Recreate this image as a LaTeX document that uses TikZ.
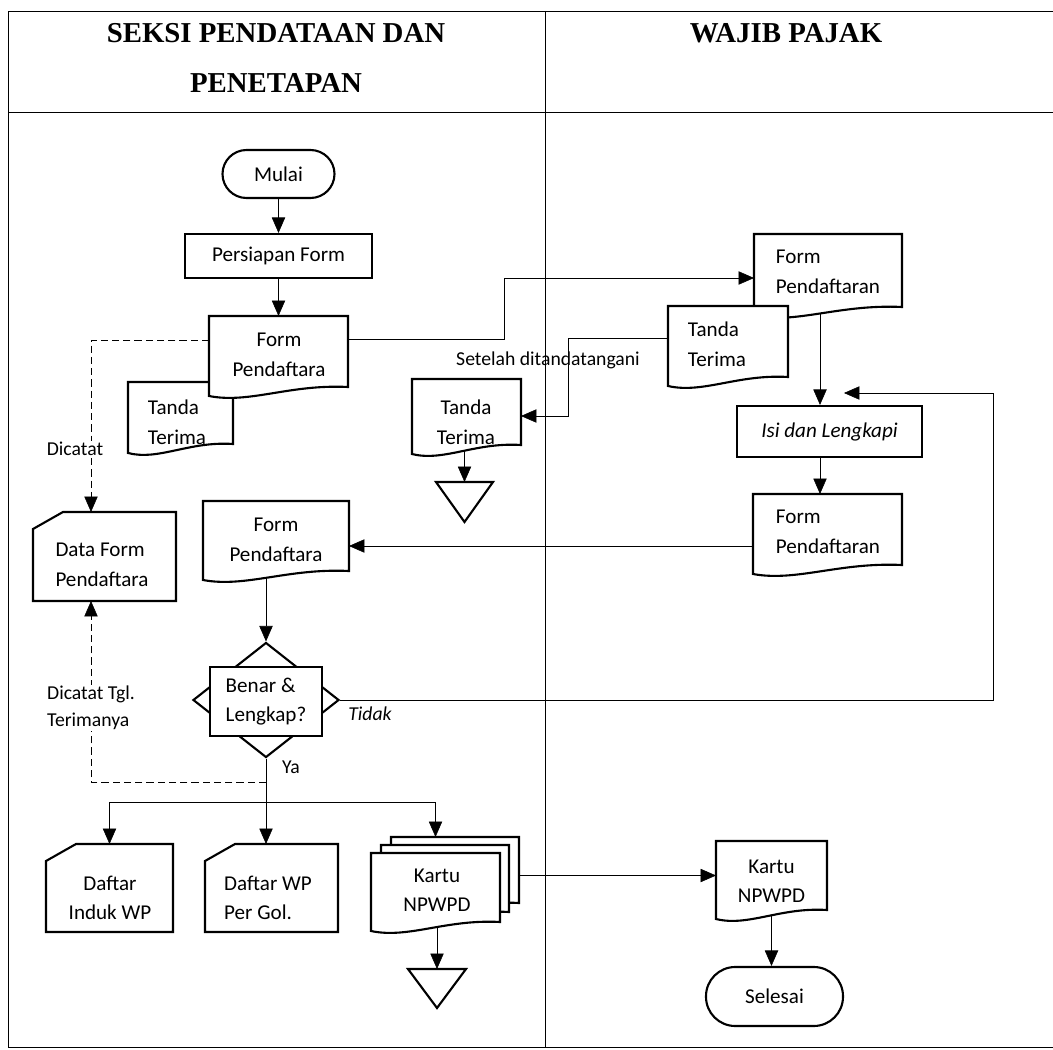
\documentclass[tikz,border=0pt]{standalone}
\usepackage{fontspec}
\setmainfont{Carlito}
\newfontfamily\headfont{Liberation Serif}
\usetikzlibrary{arrows.meta,shapes.geometric,backgrounds}

\tikzset{
    frame/.style 2 args={inner sep=0pt, outer sep=0pt, minimum width={(#1)*0.025cm}, minimum height={(#2)*0.025cm}},
    sz/.style 2 args={minimum width=#1*0.025cm, minimum height=#2*0.025cm},
    term/.style={draw, fill=white, inner sep=0pt, rounded corners=#1},
    proc/.style={draw, fill=white, inner sep=0pt},
    txt/.style={inner sep=0pt, align=center},
    small/.style={font=\fontsize{14}{19}\selectfont},
    head/.style={align=center, font=\headfont\bfseries\fontsize{20.5}{35.5}\selectfont},
    dashline/.style={dash pattern=on 5pt off 3pt},
}

% 文档符号：#1 名称，(#2,#3) 左上角，(#4,#5) 波浪线右端
\newcommand{\docsym}[5]{%
    \filldraw[fill=white] (#2,#3) -- (#4,#3) -- (#4,#5)
        .. controls ({#2+0.58*(#4-#2)},{#5-3}) and ({#2+0.29*(#4-#2)},{#5+17}) .. (#2,{#5+9}) -- cycle;
    \node[frame={#4-#2}{#5-#3}] (#1) at ({(#2+#4)/2},{(#3+#5)/2}) {};}
% 卡片符号（左上角切角）
\newcommand{\cardsym}[5]{%
    \filldraw[fill=white] ({#2+30},#3) -- (#4,#3) -- (#4,#5) -- (#2,#5) -- (#2,{#3+17}) -- cycle;
    \node[frame={#4-#2}{#5-#3}] (#1) at ({(#2+#4)/2},{(#3+#5)/2}) {};}
% 倒三角（存档）
\newcommand{\offpage}[5]{%
    \filldraw[fill=white] (#2,#3) -- (#4,#3) -- ({(#2+#4)/2},#5) -- cycle;
    \node[frame={#4-#2}{#5-#3}] (#1) at ({(#2+#4)/2},{(#3+#5)/2}) {};}

\begin{document}
\begin{tikzpicture}[x=0.025cm, y=-0.025cm, line width=1.5pt, >={Triangle[length=11pt,width=9.5pt]},
    font=\fontsize{15}{21}\selectfont]
    \useasboundingbox (0,0) rectangle (1053,1050);

    % 表头
    \node[head] (seksi) at (276,58) {SEKSI PENDATAAN DAN\\PENETAPAN};
    \node[head] (wp) at (786,33) {WAJIB PAJAK};

    % 左栏
    \node[term=0.6cm, sz={112}{48}] (mulai) at (278.5,174) {Mulai};
    \node[proc, sz={187}{44}] (persiapan) at (278.5,256) {Persiapan Form};
    \docsym{tanda1}{128}{382}{233}{444}
    \node[txt, align=left] (tanda1-t) at (177,422) {Tanda\\Terima};
    \docsym{form1}{209}{316}{348}{387}
    \node[txt] (form1-t) at (279,355) {Form\\Pendaftara};
    \docsym{tanda2}{412}{379}{521}{445}
    \node[txt] (tanda2-t) at (466,422) {Tanda\\Terima};
    \offpage{tri1}{436}{482}{493}{522}
    \cardsym{dataform}{33}{512}{176}{601}
    \node[txt, align=left] (dataform-t) at (102,565) {Data Form\\Pendaftara};
    \docsym{form2}{203}{501}{349}{571}
    \node[txt] (form2-t) at (276,540) {Form\\Pendaftara};
    \node[diamond, draw, fill=white, sz={146}{115}, inner sep=0pt] (dec) at (266,700) {};
    \node[proc, sz={112}{69}, align=left] (dec-t) at (266,701.5) {Benar \&\\Lengkap?};
    \cardsym{induk}{46}{844}{173}{932}
    \node[txt] (induk-t) at (110,898) {Daftar\\Induk WP};
    \cardsym{daftarwp}{205}{844}{338}{932}
    \node[txt, align=left] (daftarwp-t) at (268,898) {Daftar WP\\Per Gol.};
    \docsym{kartu3}{391}{837}{519}{903}
    \docsym{kartu2}{381}{845}{509}{912}
    \docsym{kartu}{371}{853}{500}{922}
    \node[txt] (kartu-t) at (437,890) {Kartu\\NPWPD};
    \offpage{tri2}{408}{969}{466}{1008}

    % 右栏
    \docsym{formwp}{754}{234}{902}{307}
    \node[txt, align=left] (formwp-t) at (828,272) {Form\\Pendaftaran};
    \docsym{tanda3}{668}{306}{788}{377}
    \node[txt, align=left] (tanda3-t) at (717,344) {Tanda\\Terima};
    \node[proc, sz={185}{51}, font=\fontsize{15}{21}\selectfont\itshape] (isi) at (829.5,431.5) {Isi dan Lengkapi};
    \docsym{form3}{753}{494}{902}{565}
    \node[txt, align=left] (form3-t) at (828,532) {Form\\Pendaftaran};
    \docsym{kartuR}{716}{841}{827}{910}
    \node[txt] (kartuR-t) at (771.5,881) {Kartu\\NPWPD};
    \node[term=0.73cm, sz={137}{59}] (selesai) at (774.5,996.5) {Selesai};

    % 标注
    \node[small] (setelah) at (548,360) {Setelah ditandatangani};
    \node[small, fill=white, inner sep=1pt] (dicatat) at (75,449) {Dicatat};
    \node[small, fill=white, inner sep=1pt, align=left] (dicatat2) at (91,708) {Dicatat Tgl.\\Terimanya};
    \node[small, font=\fontsize{14}{19}\selectfont\itshape] (tidak) at (370,714) {Tidak};
    \node[small] (ya) at (291,767) {Ya};

    % 折点
    \coordinate (b1) at (504,339);
    \coordinate (b2) at (504,278);
    \coordinate (b3) at (568,338);
    \coordinate (b4) at (568,416);
    \coordinate (vx) at (820,0);
    \coordinate (f3a) at (753,546);
    \coordinate (lp1) at (993,700);
    \coordinate (lp2) at (993,393);
    \coordinate (lp3) at (844,393);
    \coordinate (yab) at (266,802);
    \coordinate (d1) at (91,340);
    \coordinate (d2) at (91,782);

    \begin{pgfonlayer}{background}
        % 泳道框线
        \draw (8,1047) -- (8,11) -- (1053,11);
        \draw (8,112) -- (1053,112);
        \draw (8,1047) -- (1053,1047);
        \draw (545,11) -- (545,1047);

        % 连线
        \draw[->] (mulai) -- (persiapan);
        \draw[->] (persiapan) -- (form1.north);
        \draw[->] (form1.east |- b1) -- (b1) -- (b2) -- (b2 -| formwp.west);
        \draw[->] (tanda3.west |- b3) -- (b3) -- (b4) -- (b4 -| tanda2.east);
        \draw[->] (tri1.north |- tanda2.south) -- (tri1.north);
        \draw[->] (vx |- formwp.south) -- (vx |- isi.north);
        \draw[->] (vx |- isi.south) -- (vx |- form3.north);
        \draw[->] (f3a) -- (f3a -| form2.east);
        \draw[->] (dec.north |- form2.south) -- (dec.north);
        \draw[->] (dec.east) -- (lp1) -- (lp2) -- (lp3);
        \draw[->] (dec.south) -- (dec.south |- daftarwp.north);
        \draw[->] (yab) -| (induk.north);
        \draw[->] (yab) -| (kartu.north |- kartu3.north);
        \draw[->] (tri2.north |- kartu.south) -- (tri2.north);
        \draw[->] (kartuR.west -| kartu3.east) -- (kartuR.west);
        \draw[->] (kartuR.south) -- (kartuR.south |- selesai.north);
        \draw[dashline, ->] (form1.west |- d1) -- (d1) -- (d1 |- dataform.north);
        \draw[dashline, ->] (dec.south |- d2) -- (d2) -- (d2 |- dataform.south);
    \end{pgfonlayer}
\end{tikzpicture}
\end{document}
